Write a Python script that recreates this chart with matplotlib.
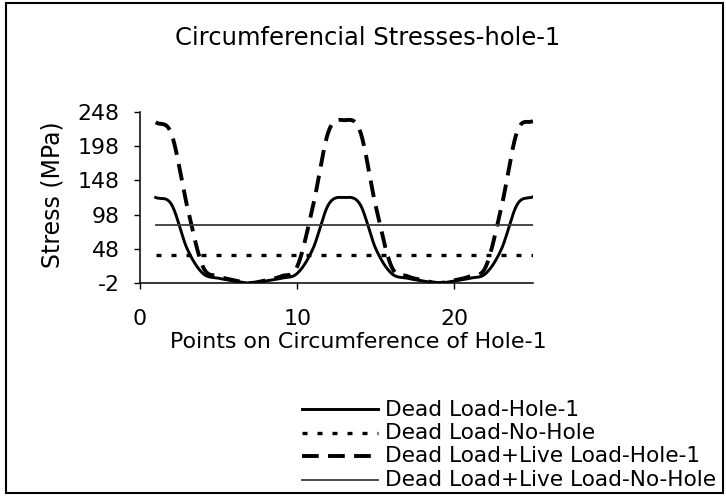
import matplotlib
matplotlib.use("Agg")
import matplotlib.pyplot as plt
import numpy as np
from matplotlib.patches import Rectangle
from matplotlib.lines import Line2D

plt.rcParams['font.family'] = ['DejaVu Sans']
plt.rcParams['axes.unicode_minus'] = False

# points on circumference
points = list(range(1, 26))

# stresses (MPa)
dead_hole = [123, 113, 48, 12, 5, 1, -2, 1, 5, 12, 48, 113, 123,
             113, 48, 12, 5, 1, -2, 1, 5, 12, 48, 113, 124]
dead_nohole = [39] * 25
live_hole = [233, 216, 110, 22, 8, 2, -2, 2, 8, 22, 110, 220, 236,
             220, 110, 22, 8, 2, -2, 2, 8, 22, 110, 220, 235]
live_nohole = [83] * 25

yticks = [-2, 48, 98, 148, 198, 248]
xticks = [0, 10, 20]

labels = ['Dead Load-Hole-1', 'Dead Load-No-Hole',
          'Dead Load+Live Load-Hole-1', 'Dead Load+Live Load-No-Hole']


def smooth(x, y, n=20):
    # excel style smoothed line (catmull-rom through the points)
    x = np.asarray(x, float)
    y = np.asarray(y, float)
    px = np.concatenate([[2 * x[0] - x[1]], x, [2 * x[-1] - x[-2]]])
    py = np.concatenate([[2 * y[0] - y[1]], y, [2 * y[-1] - y[-2]]])
    xs, ys = [], []
    for i in range(1, len(px) - 2):
        t = np.linspace(0, 1, n, endpoint=False)
        for arr, out in ((px, xs), (py, ys)):
            p0, p1, p2, p3 = arr[i - 1], arr[i], arr[i + 1], arr[i + 2]
            out.extend(0.5 * (2 * p1 + (-p0 + p2) * t
                              + (2 * p0 - 5 * p1 + 4 * p2 - p3) * t ** 2
                              + (-p0 + 3 * p1 - 3 * p2 + p3) * t ** 3))
    xs.append(x[-1])
    ys.append(y[-1])
    return np.array(xs), np.array(ys)


W, H = 726, 496
fig = plt.figure(figsize=(W / 100, H / 100), dpi=100)
ax = fig.add_axes([140 / W, 1 - 283 / H, 393 / W, 171 / H])

styles = [
    dict(color='black', lw=2.1),
    dict(color='black', lw=2.4, dashes=(1.5, 3.0)),
    dict(color='black', lw=2.8, dashes=(4.3, 2.4)),
    dict(color='#3a3a3a', lw=1.3),
]

sx, sy = smooth(points, dead_hole)
ax.plot(sx, sy, **styles[0])
ax.plot(points, dead_nohole, **styles[1])
sx, sy = smooth(points, live_hole)
ax.plot(sx, sy, **styles[2])
ax.plot(points, live_nohole, **styles[3])

ax.set_xlim(0, 25)
ax.set_ylim(-2, 248)
ax.set_xticks(xticks)
ax.set_yticks(yticks)
ax.spines['top'].set_visible(False)
ax.spines['right'].set_visible(False)
ax.spines['left'].set_linewidth(1.1)
ax.spines['bottom'].set_linewidth(1.1)
ax.tick_params(direction='out', length=4.5, width=1, labelsize=15.8)
ax.tick_params(axis='y', pad=10)
ax.tick_params(axis='x', pad=14)

fig.text(368 / W, 1 - 45 / H, 'Circumferencial Stresses-hole-1', fontsize=17.5,
         ha='center', va='baseline')
fig.text(358 / W, 1 - 348 / H, 'Points on Circumference of Hole-1', fontsize=15.9,
         ha='center', va='baseline')
fig.text(53 / W, 1 - 195 / H, 'Stress (MPa)', fontsize=17, rotation=90,
         ha='center', va='center')

# legend below the plot
base = [415.5, 439, 462.5, 486]
for st, lab, b in zip(styles, labels, base):
    fig.add_artist(Line2D([302 / W, 378 / W], [1 - (b - 6.5) / H] * 2,
                          transform=fig.transFigure, **st))
    fig.text(385 / W, 1 - b / H, lab, fontsize=15.6, ha='left', va='baseline')

fig.patches.append(Rectangle((6 / W, 3 / H), 717 / W, 490 / H, transform=fig.transFigure,
                             fill=False, edgecolor='black', lw=1.5))

fig.savefig('out.png', dpi=100)
